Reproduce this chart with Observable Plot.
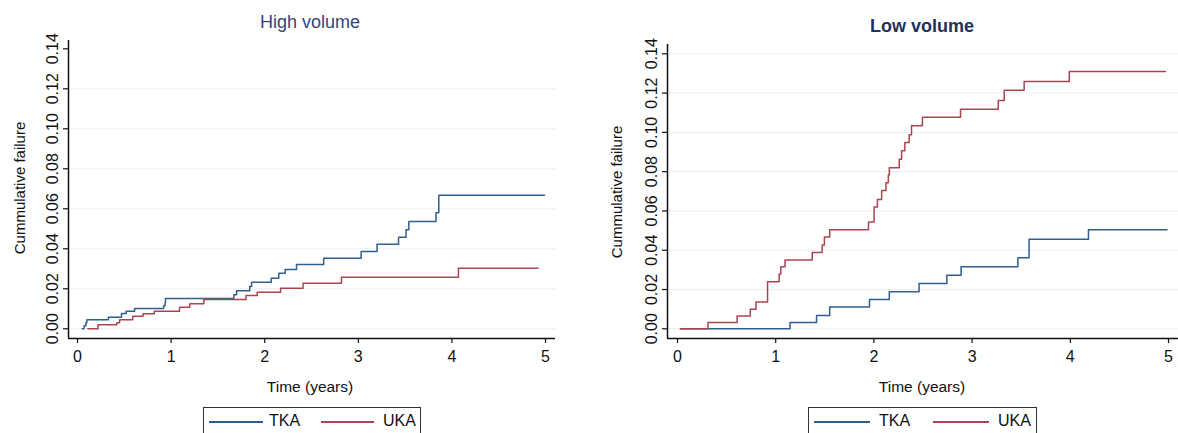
<!DOCTYPE html>
<html>
<head>
<meta charset="utf-8">
<script src="https://cdn.jsdelivr.net/npm/d3@7"></script>
<script src="https://cdn.jsdelivr.net/npm/@observablehq/plot@0.6"></script>
<style>
  html, body { margin: 0; padding: 0; background: #fff; }
  #root { position: relative; width: 1178px; height: 433px; overflow: hidden; background: #fff;
          font-family: "Liberation Sans", Arial, sans-serif; color: #111; }
  .abs { position: absolute; white-space: nowrap; }
  .title { font-size: 18px; color: #2b3a68; transform: translateX(-50%); }
  .ytitle { font-size: 15px; transform: translate(-50%, -50%) rotate(-90deg); }
  .xtitle { font-size: 15.5px; transform: translateX(-50%); }
  .legbox { border: 1px solid #333; height: 60px; box-sizing: border-box; }
  .legline { height: 2px; }
  .legtext { font-size: 16px; }
</style>
</head>
<body>
<div id="root"></div>
<script>
// ---------- data ----------
const xTicks = [0, 1, 2, 3, 4, 5];
const yTicks = [0, 0.02, 0.04, 0.06, 0.08, 0.10, 0.12, 0.14];
const seriesNames = ["TKA", "UKA"];
const panelTitles = ["High volume", "Low volume"];

// High volume
const highTkaTime = [0.05, 0.07, 0.09, 0.10, 0.33, 0.47, 0.52, 0.61, 0.92, 0.935, 0.94, 1.67, 1.70, 1.84, 1.86, 2.07, 2.15, 2.22, 2.34, 2.63, 3.03, 3.20, 3.43, 3.51, 3.54, 3.83, 3.86, 4.99];
const highTkaFail = [0, 0.0015, 0.003, 0.0045, 0.0058, 0.0077, 0.0088, 0.0102, 0.0115, 0.013, 0.0152, 0.017, 0.019, 0.0212, 0.0233, 0.0253, 0.0278, 0.0297, 0.0322, 0.0353, 0.0386, 0.0423, 0.0458, 0.0495, 0.0537, 0.058, 0.0668, 0.0668];
const highUkaTime = [0.11, 0.22, 0.42, 0.45, 0.59, 0.70, 0.82, 1.09, 1.20, 1.35, 1.80, 1.92, 2.17, 2.41, 2.82, 4.07, 4.92];
const highUkaFail = [0, 0.002, 0.003, 0.0045, 0.0063, 0.0075, 0.0088, 0.0108, 0.0125, 0.0147, 0.0167, 0.0183, 0.0203, 0.0228, 0.0258, 0.0303, 0.0303];

// Low volume
const lowTkaTime = [0.03, 1.146, 1.416, 1.55, 1.955, 2.157, 2.46, 2.743, 2.888, 3.466, 3.58, 4.185, 4.985];
const lowTkaFail = [0, 0.0032, 0.0068, 0.0111, 0.0149, 0.0188, 0.0231, 0.0272, 0.0316, 0.0362, 0.0456, 0.0504, 0.0504];
const lowUkaTime = [0.03, 0.31, 0.607, 0.741, 0.799, 0.917, 1.035, 1.052, 1.095, 1.372, 1.473, 1.496, 1.55, 1.945, 2.002, 2.036, 2.079, 2.123, 2.147, 2.157, 2.258, 2.282, 2.315, 2.359, 2.383, 2.494, 2.882, 3.266, 3.327, 3.53, 3.99, 4.97];
const lowUkaFail = [0, 0.0032, 0.0065, 0.0099, 0.0137, 0.0239, 0.0279, 0.0316, 0.035, 0.0388, 0.0427, 0.0467, 0.0504, 0.0544, 0.062, 0.0658, 0.0704, 0.0744, 0.0783, 0.082, 0.0863, 0.0906, 0.0949, 0.0988, 0.1034, 0.1077, 0.1118, 0.1162, 0.1214, 0.1259, 0.131, 0.131];

// ---------- styling ----------
const BLUE = "#2f5f8c";
const RED = "#aa444e";
const GRID = "#e6eef1";
const FONT = '"Liberation Sans", Arial, sans-serif';

const zip = (t, v) => t.map((d, i) => ({t: d, v: v[i]}));

function panel({left, width, marginLeft, marginRight, marginTop, marginBottom, xDomain, yDomain, grid, tka, uka}) {
  const svg = Plot.plot({
    width, height: 433,
    marginLeft, marginRight, marginTop, marginBottom,
    x: {domain: xDomain},
    y: {domain: yDomain},
    style: {fontFamily: FONT, fontSize: "16px", background: "transparent", color: "#111"},
    marks: [
      Plot.gridY(grid, {stroke: GRID, strokeOpacity: 1, strokeWidth: 1}),
      Plot.axisX(xTicks, {tickSize: 5, tickPadding: 7, fontSize: 16, label: null, tickFormat: d => String(d), stroke: "#111", strokeWidth: 1.2}),
      Plot.axisY(yTicks, {tickSize: 5, tickFormat: () => "", label: null, stroke: "#111", strokeWidth: 1.2}),
      Plot.text(yTicks, {x: xDomain[0], y: d => d, text: d => d.toFixed(2), rotate: -90, dx: -11,
        textAnchor: "middle", lineAnchor: "bottom", fontSize: 16, fill: "#111"}),
      Plot.ruleX([xDomain[0]], {stroke: "#111", strokeWidth: 1.5}),
      Plot.ruleY([yDomain[0]], {stroke: "#111", strokeWidth: 1.5}),
      Plot.line(tka, {x: "t", y: "v", curve: "step-after", stroke: BLUE, strokeWidth: 1.5}),
      Plot.line(uka, {x: "t", y: "v", curve: "step-after", stroke: RED, strokeWidth: 1.5})
    ]
  });
  svg.style.position = "absolute";
  svg.style.left = left + "px";
  svg.style.top = "0px";
  return svg;
}

const root = document.getElementById("root");

// Left panel: y-axis at x=68, x=0 at 77, 93.6 px/yr; y=0 at 328.3, 2000 px/unit
root.appendChild(panel({
  left: 0, width: 590, marginLeft: 68, marginRight: 35, marginTop: 40, marginBottom: 95,
  xDomain: [(68 - 77) / 93.6, (555 - 77) / 93.6],
  yDomain: [(328.3 - 338) / 2000, (328.3 - 40) / 2000],
  grid: yTicks.slice(0, 7),
  tka: zip(highTkaTime, highTkaFail),
  uka: zip(highUkaTime, highUkaFail)
}));

// Right panel: y-axis at x=667, x=0 at 677, 98.2 px/yr; y=0 at 328.3, 1964.3 px/unit
root.appendChild(panel({
  left: 590, width: 588, marginLeft: 77, marginRight: 0, marginTop: 44, marginBottom: 95,
  xDomain: [(667 - 677) / 98.2, (1178 - 677) / 98.2],
  yDomain: [(328.3 - 338) / 1964.3, (328.3 - 44) / 1964.3],
  grid: yTicks,
  tka: zip(lowTkaTime, lowTkaFail),
  uka: zip(lowUkaTime, lowUkaFail)
}));

function addText(cls, text, left, top, extra = {}) {
  const d = document.createElement("div");
  d.className = "abs " + cls;
  d.textContent = text;
  d.style.left = left + "px";
  d.style.top = top + "px";
  Object.assign(d.style, extra);
  root.appendChild(d);
  return d;
}

// titles
addText("title", panelTitles[0], 310, 12, {fontWeight: "normal", color: "#34447a"});
addText("title", panelTitles[1], 922, 16, {fontWeight: "bold", color: "#22305e"});

// axis titles
addText("ytitle", "Cummulative failure", 19, 188);
addText("ytitle", "Cummulative failure", 616, 192);
addText("xtitle", "Time (years)", 310, 378);
addText("xtitle", "Time (years)", 922, 378);

// legends
function legend(boxL, boxR, l1, t1, l2, t2) {
  const b = document.createElement("div");
  b.className = "abs legbox";
  b.style.left = boxL + "px"; b.style.top = "407px"; b.style.width = (boxR - boxL) + "px";
  root.appendChild(b);
  const mk = (x0, x1, color) => {
    const l = document.createElement("div");
    l.className = "abs legline";
    l.style.left = x0 + "px"; l.style.top = "421px"; l.style.width = (x1 - x0) + "px";
    l.style.background = color;
    root.appendChild(l);
  };
  mk(l1[0], l1[1], BLUE);
  addText("legtext", seriesNames[0], t1, 412);
  mk(l2[0], l2[1], RED);
  addText("legtext", seriesNames[1], t2, 412);
}
legend(203, 421, [209, 263], 269, [321, 374], 383);
legend(808, 1037, [814, 870], 879, [933, 989], 998);
</script>
</body>
</html>
